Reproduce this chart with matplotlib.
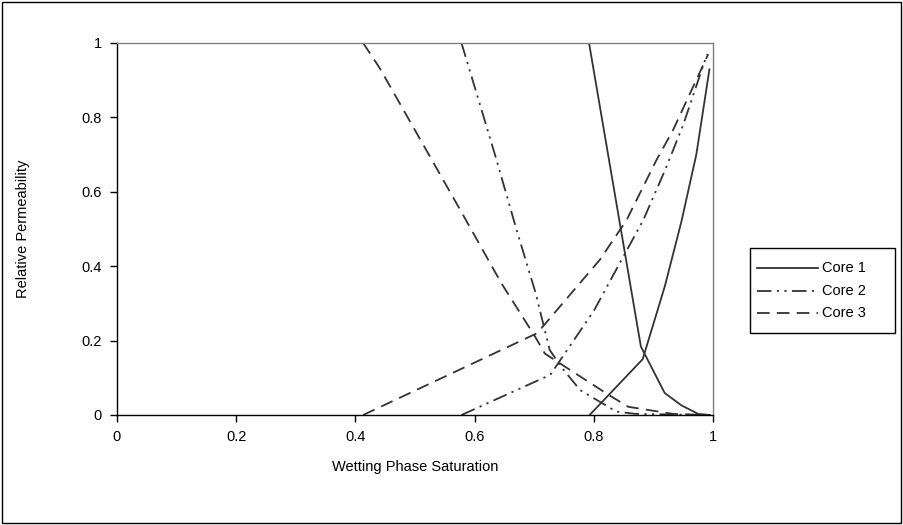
import matplotlib
matplotlib.use("Agg")
import matplotlib.pyplot as plt
from matplotlib.patches import Rectangle
from matplotlib.lines import Line2D

# Core 1 (solid)
sw1_wet = [0.793, 0.882, 0.919, 0.947, 0.972, 0.994]
kr1_wet = [0.0, 0.15, 0.345, 0.52, 0.70, 0.929]
sw1_nw = [0.792, 0.879, 0.919, 0.947, 0.975, 0.995]
kr1_nw = [1.0, 0.184, 0.059, 0.026, 0.003, 0.0]

# Core 2 (long dash dot dot)
sw2_wet = [0.578, 0.727, 0.80, 0.883, 0.92, 0.95, 0.99]
kr2_wet = [0.0, 0.108, 0.28, 0.524, 0.66, 0.78, 0.97]
sw2_nw = [0.578, 0.636, 0.670, 0.702, 0.726, 0.745, 0.777, 0.838, 0.87, 0.99]
kr2_nw = [1.0, 0.69, 0.50, 0.33, 0.175, 0.13, 0.067, 0.009, 0.003, 0.0]

# Core 3 (dashed)
sw3_wet = [0.413, 0.705, 0.81, 0.855, 0.905, 0.933, 0.992]
kr3_wet = [0.0, 0.22, 0.417, 0.524, 0.685, 0.766, 0.97]
sw3_nw = [0.413, 0.441, 0.576, 0.645, 0.701, 0.718, 0.743, 0.799, 0.825, 0.858, 0.933, 0.99]
kr3_nw = [1.0, 0.932, 0.551, 0.354, 0.212, 0.165, 0.139, 0.081, 0.054, 0.022, 0.003, 0.0]

labels = ["Core 1", "Core 2", "Core 3"]
xticks = [0, 0.2, 0.4, 0.6, 0.8, 1]
yticks = [0, 0.2, 0.4, 0.6, 0.8, 1]
tick_labels = ['0', '0.2', '0.4', '0.6', '0.8', '1']

plt.rcParams['font.family'] = ['Liberation Sans', 'DejaVu Sans']
plt.rcParams['font.size'] = 10.5

W, H = 904, 525
fig = plt.figure(figsize=(W / 100, H / 100), dpi=100)
fig.patches.append(Rectangle((0.002, 0.003), 0.995, 0.993, transform=fig.transFigure,
                             fill=False, edgecolor='black', linewidth=1.0))
ax = fig.add_axes([117 / W, 1 - 415 / H, 596 / W, 372 / H])

col = '#333333'
lw = 1.3
styles = [
    dict(linestyle='-'),
    dict(dashes=(8, 3, 1.2, 3, 1.2, 3)),
    dict(dashes=(7, 4)),
]
data = [
    (sw1_wet, kr1_wet, sw1_nw, kr1_nw),
    (sw2_wet, kr2_wet, sw2_nw, kr2_nw),
    (sw3_wet, kr3_wet, sw3_nw, kr3_nw),
]
for (sxw, kw, sxn, kn), st, lab in zip(data, styles, labels):
    ax.plot(sxw, kw, color=col, linewidth=lw, label=lab, **st)
    ax.plot(sxn, kn, color=col, linewidth=lw, **st)

ax.set_xlim(0, 1)
ax.set_ylim(0, 1)
ax.set_xticks(xticks)
ax.set_xticklabels(tick_labels)
ax.set_yticks(yticks)
ax.set_yticklabels(tick_labels)
ax.tick_params(direction='out', length=5, width=1, colors='black', pad=6)

for s in ['top', 'right']:
    ax.spines[s].set_color('#808080')
for s in ['left', 'bottom']:
    ax.spines[s].set_color('black')
for s in ax.spines.values():
    s.set_linewidth(1.0)

ax.set_xlabel('Wetting Phase Saturation', labelpad=11)
ax.set_ylabel('Relative Permeability', labelpad=37)

# Legend (Excel style box)
fig.patches.append(Rectangle((750 / W, 1 - 333 / H), 145 / W, 85 / H,
                             transform=fig.transFigure, fill=True, facecolor='white',
                             edgecolor='black', linewidth=1.0))
rows_y = [268, 291, 313]
for lab, st, yy in zip(labels, styles, rows_y):
    fig.lines.append(Line2D([757 / W, 818 / W], [1 - yy / H, 1 - yy / H],
                            transform=fig.transFigure, color=col, linewidth=lw, **st))
    fig.text(822 / W, 1 - yy / H, lab, ha='left', va='center')

fig.savefig('out.png', dpi=100)
